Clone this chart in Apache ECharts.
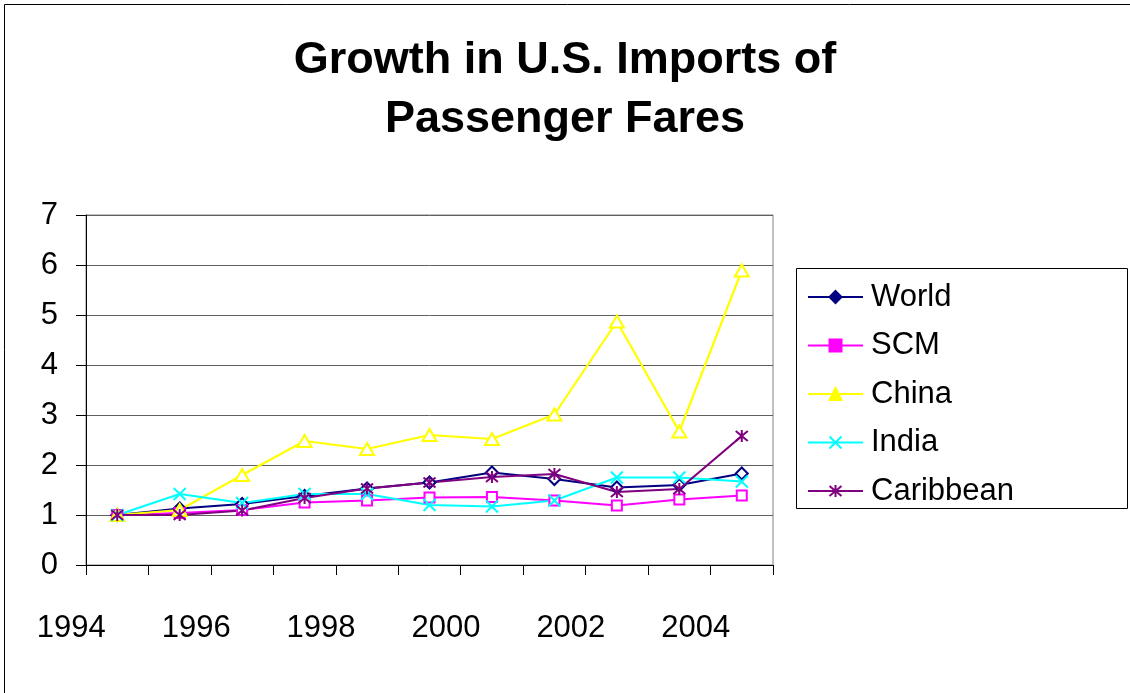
<!DOCTYPE html>
<html>
<head>
<meta charset="utf-8">
<title>Growth in U.S. Imports of Passenger Fares</title>
<script src="https://cdn.jsdelivr.net/npm/echarts@6/dist/echarts.min.js"></script>
<style>
  html, body { margin: 0; padding: 0; background: #fff; }
  #chart { width: 1130px; height: 693px; }
</style>
</head>
<body>
<div id="chart"></div>
<script>
// Index of U.S. passenger-fare imports, 1994 = 1
const years = ['1994', '1995', '1996', '1997', '1998', '1999', '2000', '2001', '2002', '2003', '2004'];
const world     = [1.00, 1.13, 1.22, 1.38, 1.53, 1.65, 1.85, 1.72, 1.55, 1.60, 1.83];
const scm       = [1.00, 1.04, 1.10, 1.25, 1.29, 1.35, 1.36, 1.29, 1.19, 1.31, 1.39];
const china     = [1.00, 1.10, 1.80, 2.48, 2.32, 2.60, 2.52, 3.01, 4.87, 2.67, 5.89];
const india     = [1.00, 1.42, 1.24, 1.42, 1.42, 1.20, 1.17, 1.29, 1.75, 1.75, 1.67];
const caribbean = [1.00, 1.00, 1.09, 1.34, 1.53, 1.65, 1.76, 1.82, 1.46, 1.52, 2.58];

const FONT = '"Liberation Sans", Arial, Helvetica, sans-serif';

const crossPath = 'path://M0,0L10,10M10,0L0,10';
const starPath = 'path://M0,0L10,10M10,0L0,10M5,-1L5,11';

const seriesDefs = [
  { name: 'World',     data: world,     color: '#000080', symbol: 'diamond',  size: 12 },
  { name: 'SCM',       data: scm,       color: '#FF00FF', symbol: 'rect',     size: 10 },
  { name: 'China',     data: china,     color: '#FFFF00', symbol: 'triangle', size: [14, 12] },
  { name: 'India',     data: india,     color: '#00FFFF', symbol: crossPath,  size: 12 },
  { name: 'Caribbean', data: caribbean, color: '#800080', symbol: starPath,   size: 12 }
];

const chart = echarts.init(document.getElementById('chart'), null, { renderer: 'canvas' });

chart.setOption({
  backgroundColor: '#fff',
  animation: false,
  textStyle: { fontFamily: FONT },
  title: {
    text: 'Growth in U.S. Imports of\nPassenger Fares',
    left: 'center',
    top: 31.5,
    padding: [0, 0, 0, 9],
    textStyle: {
      fontFamily: FONT,
      fontSize: 45,
      fontWeight: 'bold',
      color: '#000',
      lineHeight: 59,
      align: 'center'
    }
  },
  legend: {
    orient: 'vertical',
    left: 807,
    top: 279,
    padding: 0,
    itemWidth: 55,
    itemHeight: 15,
    itemGap: 12.5,
    textStyle: { fontFamily: FONT, fontSize: 31, color: '#000', lineHeight: 36, padding: [0, 0, 0, 3] },
    data: seriesDefs.map(s => ({ name: s.name, itemStyle: { color: s.color, borderColor: s.color } }))
  },
  grid: {
    left: 86,
    right: 357,
    top: 215,
    bottom: 128,
    show: true,
    borderColor: '#808080',
    borderWidth: 1,
    backgroundColor: 'transparent'
  },
  xAxis: {
    type: 'category',
    data: years,
    boundaryGap: true,
    axisLine: { show: true, lineStyle: { color: '#000', width: 1 } },
    axisTick: { show: true, interval: 0, length: 10, lineStyle: { color: '#000' } },
    axisLabel: {
      interval: 1,
      margin: 48,
      fontSize: 31,
      fontFamily: FONT,
      color: '#000',
      padding: [0, 92, 0, 0]
    },
    splitLine: { show: false }
  },
  yAxis: {
    type: 'value',
    min: 0,
    max: 7,
    interval: 1,
    axisLine: { show: true, lineStyle: { color: '#000', width: 1 } },
    axisTick: { show: true, length: 10, lineStyle: { color: '#000' } },
    axisLabel: { margin: 28, fontSize: 31, fontFamily: FONT, color: '#000' },
    splitLine: { show: true, lineStyle: { color: '#606060', width: 1 } }
  },
  series: seriesDefs.map(s => ({
    name: s.name,
    type: 'line',
    data: s.data,
    symbol: s.symbol,
    symbolSize: s.size,
    showAllSymbol: true,
    lineStyle: { color: s.color, width: 2.2 },
    itemStyle: { color: '#fff', borderColor: s.color, borderWidth: 2 },
    emphasis: { disabled: true }
  })),
  graphic: [
    {
      type: 'rect',
      shape: { x: 4.5, y: 4.5, width: 1140, height: 700 },
      style: { fill: 'none', stroke: '#000', lineWidth: 1 },
      silent: true
    },
    {
      type: 'rect',
      shape: { x: 796.5, y: 268.5, width: 331, height: 240 },
      style: { fill: 'none', stroke: '#000', lineWidth: 1 },
      silent: true
    }
  ]
});
</script>
</body>
</html>
